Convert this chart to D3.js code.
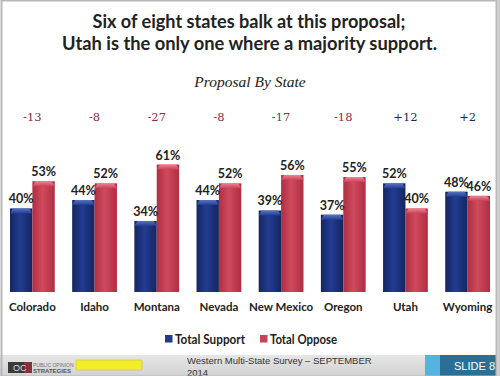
<!DOCTYPE html>
<html><head><meta charset="utf-8">
<script src="https://cdn.jsdelivr.net/npm/d3@7"></script>
<style>html,body{margin:0;padding:0;background:#fff;overflow:hidden}</style>
</head><body><div id="chart"></div>
<script>
const states = ["Colorado","Idaho","Montana","Nevada","New Mexico","Oregon","Utah","Wyoming"];
const support = [40,44,34,44,39,37,52,48];
const oppose  = [53,52,61,52,56,55,40,46];
const diffs   = ["-13","-8","-27","-8","-17","-18","+12","+2"];
const seriesNames = ["Total Support","Total Oppose"];

const W = 500, H = 376;
const svg = d3.select("#chart").append("svg").attr("width", W).attr("height", H);
const defs = svg.append("defs");

function grad(id, edge, mid){
  const g = defs.append("linearGradient").attr("id", id).attr("x1","0").attr("x2","1").attr("y1","0").attr("y2","0");
  g.append("stop").attr("offset","0%").attr("stop-color", edge);
  g.append("stop").attr("offset","45%").attr("stop-color", mid);
  g.append("stop").attr("offset","100%").attr("stop-color", edge);
}
grad("gBlue", "#142660", "#223c92");
grad("gRed", "#b02e43", "#cf4a5c");
function capGrad(id, top, bot){
  const g = defs.append("linearGradient").attr("id", id).attr("x1","0").attr("x2","0").attr("y1","0").attr("y2","1");
  g.append("stop").attr("offset","0%").attr("stop-color", top);
  g.append("stop").attr("offset","100%").attr("stop-color", bot);
}
capGrad("cBlue", "#5a73c0", "#223c92");
capGrad("cRed", "#ee8592", "#c8415a");

svg.append("rect").attr("x",0).attr("y",0).attr("width",W).attr("height",H).attr("fill","#fff");

function fit(sel, target){
  sel.each(function(){
    const w = this.getComputedTextLength();
    if (w > target) d3.select(this).attr("textLength", target).attr("lengthAdjust","spacingAndGlyphs");
  });
}

// Title
const title = svg.append("g").attr("font-family","Lato, 'Open Sans', sans-serif").attr("font-weight","bold").attr("fill","#222").attr("text-anchor","middle");
title.append("text").attr("x",249).attr("y",28).attr("font-size",19).text("Six of eight states balk at this proposal;").call(fit, 313);
title.append("text").attr("x",249.5).attr("y",50).attr("font-size",19).text("Utah is the only one where a majority support.").call(fit, 375);

svg.append("text").attr("x",250).attr("y",87).attr("text-anchor","middle")
  .attr("font-family","'Liberation Serif', serif").attr("font-style","italic").attr("font-size",15.5)
  .attr("fill","#222").text("Proposal By State");

// Scales
const x0 = d3.scaleBand().domain(states).range([10, 490]).paddingInner(0.28).paddingOuter(0);
const x1 = d3.scaleBand().domain(seriesNames).range([0, x0.bandwidth()]).padding(0);
const y = d3.scaleLinear().domain([0, 100]).range([292, 83]);

const data = states.map((s,i)=>({state:s, vals:[{k:seriesNames[0], v:support[i]},{k:seriesNames[1], v:oppose[i]}], diff:diffs[i]}));

// diff labels
svg.append("g").selectAll("text").data(data).join("text")
  .attr("x", d => x0(d.state) + x0.bandwidth()/2)
  .attr("y", 121)
  .attr("text-anchor","middle")
  .attr("font-family","'DejaVu Serif', serif").attr("font-size",11.5)
  .attr("fill", d => d.diff.startsWith("+") ? "#1f2a55" : "#8e2a3e")
  .text(d => d.diff);

// bars
const groups = svg.append("g").selectAll("g").data(data).join("g")
  .attr("transform", d => `translate(${x0(d.state)},0)`);
const bw = x1.bandwidth();
groups.selectAll("rect.bar").data(d => d.vals).join("rect").attr("class","bar")
  .attr("x", d => x1(d.k)).attr("width", bw)
  .attr("y", d => y(d.v)).attr("height", d => y(0) - y(d.v))
  .attr("fill", d => d.k === seriesNames[0] ? "url(#gBlue)" : "url(#gRed)");
groups.selectAll("path.cap").data(d => d.vals).join("path").attr("class","cap")
  .attr("d", d => {
    const xa = x1(d.k), ya = y(d.v);
    return `M${xa},${ya+5} L${xa+3},${ya} L${xa+bw-3},${ya} L${xa+bw},${ya+5} Z`;
  })
  .attr("fill", d => d.k === seriesNames[0] ? "url(#cBlue)" : "url(#cRed)");
groups.selectAll("text.val").data(d => d.vals).join("text").attr("class","val")
  .attr("x", d => x1(d.k) + bw/2)
  .attr("y", d => y(d.v) - 5)
  .attr("text-anchor","middle")
  .attr("font-family","Lato, 'Open Sans', sans-serif").attr("font-weight","bold").attr("font-size",12.5)
  .attr("fill","#222")
  .text(d => d.v + "%");

// category labels
svg.append("g").selectAll("text").data(states).join("text")
  .attr("x", d => x0(d) + x0.bandwidth()/2)
  .attr("y", 311)
  .attr("text-anchor","middle")
  .attr("font-family","Lato, 'Open Sans', sans-serif").attr("font-weight","bold").attr("font-size",11.5)
  .attr("fill","#222")
  .text(d => d);

// legend
const legX = [165, 260];
const leg = svg.append("g").selectAll("g").data(seriesNames).join("g")
  .attr("transform", (d,i) => `translate(${legX[i]},335)`);
leg.append("rect").attr("width",7.5).attr("height",7.5)
  .attr("fill", (d,i) => i===0 ? "#1f3a8c" : "#c8415a");
leg.append("text").attr("x",10).attr("y",8.5)
  .attr("font-family","Lato, 'Open Sans', sans-serif").attr("font-weight","bold").attr("font-size",14)
  .attr("fill","#222").text(d => d)
  .each(function(d,i){ const t=[70,67][i]; const w=this.getComputedTextLength(); if (Math.abs(w-t)>2) d3.select(this).attr("textLength",t).attr("lengthAdjust","spacingAndGlyphs"); });

// footer
const fg = defs.append("linearGradient").attr("id","fgrad").attr("x1","0").attr("x2","0").attr("y1","0").attr("y2","1");
fg.append("stop").attr("offset","0%").attr("stop-color","#e6e6e6");
fg.append("stop").attr("offset","100%").attr("stop-color","#d2d2d2");
svg.append("rect").attr("x",0).attr("y",355).attr("width",W).attr("height",21).attr("fill","url(#fgrad)");
svg.append("rect").attr("x",425).attr("y",355).attr("width",15).attr("height",21).attr("fill","#55b3e2");
svg.append("rect").attr("x",440).attr("y",355).attr("width",60).attr("height",21).attr("fill","#2b6f96");
svg.append("text").attr("x",495).attr("y",370).attr("text-anchor","end")
  .attr("font-family","'Liberation Sans', Arial, sans-serif").attr("font-size",11).attr("fill","#fff").text("SLIDE 8");
const ft = svg.append("g").attr("font-family","'Liberation Sans', Arial, sans-serif").attr("font-size",9.5).attr("fill","#333");
ft.append("text").attr("x",187).attr("y",364).text("Western Multi-State Survey – SEPTEMBER").call(fit, 187);
ft.append("text").attr("x",187).attr("y",375.5).text("2014");

// logo
svg.append("rect").attr("x",8).attr("y",362).attr("width",24).attr("height",11).attr("fill","#3a3a3a");
svg.append("rect").attr("x",24).attr("y",362).attr("width",8).attr("height",11).attr("fill","#8a2f3c");
svg.append("text").attr("x",13).attr("y",371).attr("font-family","'Liberation Sans', Arial, sans-serif").attr("font-size",9).attr("fill","#ddd").text("OC");
svg.append("text").attr("x",33).attr("y",366.5).attr("font-family","'Liberation Sans', Arial, sans-serif").attr("font-size",5).attr("fill","#777").text("PUBLIC OPINION").call(fit, 42);
svg.append("text").attr("x",33).attr("y",373).attr("font-family","'Liberation Sans', Arial, sans-serif").attr("font-weight","bold").attr("font-size",6).attr("fill","#555").text("STRATEGIES").call(fit, 40);
svg.append("rect").attr("x",76).attr("y",360).attr("width",66).attr("height",10).attr("rx",1).attr("fill","#f2ef2a").attr("stroke","#c9c320").attr("stroke-width",0.6);

// slide border
svg.append("rect").attr("x",1.5).attr("y",0.5).attr("width",495).attr("height",H).attr("fill","none").attr("stroke","#b8b8b8").attr("stroke-width",2);
svg.append("rect").attr("x",497).attr("y",0).attr("width",3).attr("height",H).attr("fill","#cfcfcf");
</script></body></html>
